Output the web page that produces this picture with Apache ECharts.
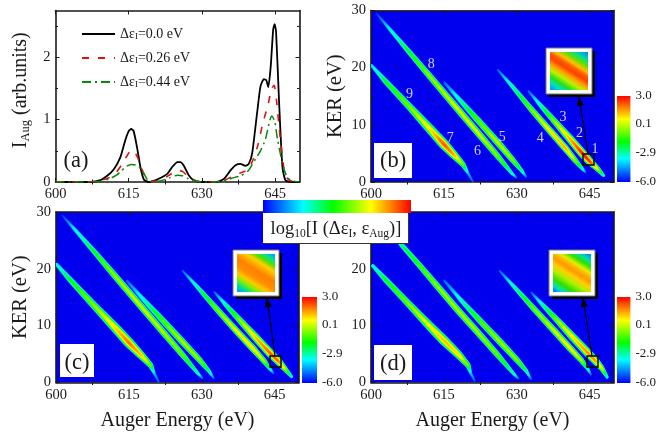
<!DOCTYPE html>
<html><head><meta charset="utf-8">
<style>html,body{margin:0;padding:0;background:#fff}#c{width:659px;height:433px}</style>
<script src="https://cdn.jsdelivr.net/npm/echarts@6/dist/echarts.min.js"></script>
</head><body><div id="c"></div>
<script>
// ---------- panel (a) spectra: [Auger energy, intensity]
const curve00 = [[600,0],[607.2,0],[609.2,.03],[610.6,.10],[612,.21],[613.3,.40],[614.3,.67],[615,.815],[615.5,.85],[616,.82],[616.7,.56],[617.4,.24],[618.1,.04],[619.1,0],[620.8,.04],[622.9,.13],[623.9,.24],[625,.32],[625.6,.32],[626.3,.26],[627.3,.11],[628.3,.03],[629.7,0],[633,0],[634.5,.05],[635.9,.19],[636.9,.27],[637.9,.29],[638.9,.26],[639.6,.29],[640.3,.46],[641.3,1.10],[642,1.53],[642.7,1.65],[643.2,1.63],[643.6,1.52],[644.1,1.85],[644.6,2.44],[644.9,2.53],[645.2,2.41],[645.8,1.31],[646.5,.24],[647.1,.03],[648.2,0],[650,0]];
const curve26 = [[600,0],[607,0],[609,.02],[611,.07],[612.5,.16],[613.5,.27],[614.5,.40],[615.5,.51],[616.3,.47],[617,.36],[618,.15],[619,.03],[620,.01],[622,.05],[623.5,.12],[625,.19],[626,.17],[627,.10],[628,.04],[630,0],[633,0],[635,.04],[636.5,.10],[638,.15],[639.5,.20],[640.5,.36],[641.5,.60],[642.5,.95],[643.5,1.22],[644.3,1.50],[644.8,1.55],[645.3,1.30],[646,.75],[646.8,.22],[647.5,.06],[648.5,.01],[650,0]];
const curve44 = [[600,0],[607,0],[609,.01],[611,.05],[612.5,.11],[613.5,.18],[614.5,.25],[615.5,.28],[616.5,.27],[617.5,.21],[618.5,.08],[619,.02],[620,0],[622,.03],[623.5,.07],[625,.11],[626,.10],[627,.06],[628,.03],[630,0],[633,0],[635,.03],[636.5,.07],[638,.10],[639.5,.18],[641,.37],[642,.50],[643,.68],[643.8,.95],[644.3,1.06],[644.9,.98],[645.5,.68],[646.5,.30],[647.5,.07],[649,.01],[650,0]];
const legendNames = ['Δε{s|I}=0.0 eV','Δε{s|I}=0.26 eV','Δε{s|I}=0.44 eV'];
// ---------- ridges: [Auger energy, KER, peak log10 I, half width]
const b9to7 = [[600,20.5,-3.8,1.5],[603,17.6,-1.6,2.6],[608,13.1,-.4,3.3],[612,9.4,.8,4.2],[615,6.6,2.4,4.6],[617,4.8,1.6,3.7],[619,3,-.6,2.4],[620,1.5,-4,1.4],[621,0,-5,1]];
const b8to6 = [[601,29.6,-5.5,1],[604,26.6,-3.2,1.8],[608,22.6,-1.5,2.5],[612,18.6,-.3,2.9],[617,13.6,.4,3.1],[622,8.6,.4,3.1],[626,4.6,-.4,2.7],[629,1.5,-2.6,1.6],[630,.7,-5,1]];
const b5 = [[615,17.5,-5,1.3],[618,14.6,-2.8,2.2],[622,10.8,-.8,2.9],[626,7,.2,3.1],[629,4,-.3,2.7],[631,2,-2.2,1.8],[632,.8,-5,1]];
const b4 = [[626,19.7,-5,1],[629,16.8,-2.6,2],[633,12.7,-.4,2.7],[637,8.8,1,3.1],[640,5.9,1.5,3.1],[642,3.8,0,2.5],[643.5,2.3,-2.6,1.6],[644.2,1.6,-5,1]];
const b3to1 = [[632.3,16,-5,1],[635,13.3,-2.4,2.2],[638,10.4,0,2.9],[641,7.5,1.5,3.6],[643.5,5,3,3.8],[645,3.6,2.7,3.4],[646.5,2.4,.7,2.5],[648,1,-3.2,1.4]];
const cA = [[600,20.9,-3.3,1.7],[603,18,-1.6,2.7],[608,13.4,-.3,3.4],[612,9.8,1,4.3],[615,7,2.1,4.6],[617.5,4.8,1.3,3.6],[619.5,3,-.6,2.5],[620.3,1.5,-4,1.4],[621.2,0,-5,1]];
const cB = [[601.2,29.5,-5.5,1],[604,26.8,-3.2,1.8],[608,22.9,-1.5,2.5],[612,18.9,-.2,3],[617,13.9,.3,3.1],[622,8.9,.1,3],[626,4.9,-.6,2.7],[629.2,1.6,-2.6,1.6],[630.2,.7,-5,1]];
const cC = [[614.5,18,-5,1.3],[618,14.6,-2.8,2.2],[622,10.9,-.9,2.9],[626,7.2,.1,3.1],[629.5,4,-.3,2.7],[631.5,2,-2.2,1.8],[632.5,.7,-5,1]];
const cD = [[626,19.7,-5,1],[629,16.9,-2.6,2],[633,13,-.5,2.7],[637,9.2,.7,3],[640.5,6,1.1,3.1],[642.8,3.8,0,2.5],[644,2.4,-2.6,1.6],[644.8,1.6,-5,1]];
const cE = [[632.5,16,-5,1],[635,13.6,-2.4,2.2],[638,10.8,-.2,2.9],[641,8,1.2,3.6],[644,5.2,2.3,3.8],[645.7,3.8,2.2,3.4],[647,2.5,.6,2.5],[648.6,.9,-3.2,1.4]];
const dA = [[600.2,20.7,-3.3,1.7],[603,18.1,-1.6,2.7],[608,13.6,-.3,3.2],[612,10,.6,4],[615,7.4,1.3,4.5],[618,4.9,1,3.6],[620,3,-.6,2.5],[620.6,1.5,-4,1.4],[621.4,.2,-5,1]];
const dB = [[601.6,29,-5.5,1],[606.3,24.2,-2.2,2.3],[610,20.6,-1,2.7],[614,16.6,-.2,3],[618,12.6,0,3.1],[622,8.8,-.1,3],[626,4.9,-.6,2.7],[629.4,1.5,-2.6,1.6],[630.4,.6,-5,1]];
const dC = [[615,18,-5,1.3],[618.5,14.5,-2.8,2.2],[622.5,10.8,-.9,2.9],[626.5,7.2,-.1,3.1],[630,4,-.4,2.7],[632,2,-2.2,1.8],[633,.5,-5,1]];
const dD = [[626.4,19.7,-5,1],[629.5,16.8,-2.6,2],[633.5,13,-.5,2.7],[637.5,9.3,.3,3],[641,6,.8,3],[643.3,3.9,0,2.5],[644.6,2.4,-2.6,1.6],[645.3,1.3,-5,1]];
const dE = [[632.9,15.9,-5,1],[635.5,13.5,-2.4,2.2],[638.5,10.8,-.2,2.9],[641.5,8,.9,3.6],[644.5,5.3,1.8,3.8],[646.2,3.8,1.7,3.4],[647.5,2.5,.5,2.5],[648.7,.8,-3.2,1.4]];
// ---------- peak labels of panel (b): [Auger energy, KER, label]
const peakLabels = [[646.1,5.8,'1'],[642.9,8.6,'2'],[639.5,11.4,'3'],[634.8,7.6,'4'],[627,7.9,'5'],[621.9,5.4,'6'],[616.3,7.6,'7'],[612.4,20.6,'8'],[607.9,15.3,'9']];
// ---------- ticks
const xMajor = [600,615,630,645];
const xMinor = [607.5,622.5,637.5];
const kerMajor = [0,10,20,30];
const kerMinor = [5,15,25];
const intMajor = [0,1,2];
const intMinor = [.5,1.5,2.5];
const barTicks = [-6,-2.9,.1,3];

const SERIF = '"Liberation Serif","Times New Roman",serif';
const INK = '#1a1a1a';
const ramp = [[0,[0,0,255]],[.27,[0,255,255]],[.47,[0,255,0]],[.73,[255,255,0]],[.85,[255,144,0]],[1,[255,0,0]]];
function colorAt(v){
  const f = Math.max(0,Math.min(1,(v+6)/9));
  for(let i=1;i<ramp.length;i++){
    if(f<=ramp[i][0]){
      const a=ramp[i-1],b=ramp[i],t=(f-a[0])/(b[0]-a[0]);
      return 'rgb('+a[1].map((c,k)=>Math.round(c+(b[1][k]-c)*t)).join(',')+')';
    }
  }
  return 'rgb(255,0,0)';
}
const rampStops = ramp.map(r=>({offset:r[0],color:'rgb('+r[1].join(',')+')'}));

const grids=[], xAxes=[], yAxes=[], series=[];
function frameAxis(kind,g,pos,min,max,major,minor,labelled,nameCfg,fmt){
  const common = {type:'value',gridIndex:g,position:pos,min:min,max:max,splitLine:{show:false},minorTick:{show:false},minorSplitLine:{show:false},silent:true};
  const list = kind==='x'?xAxes:yAxes;
  list.push(Object.assign({},common,{
    axisLine:{show:true,onZero:false,lineStyle:{color:INK,width:1.6}},
    axisTick:{show:true,inside:true,length:4,customValues:major,lineStyle:{color:INK,width:1}},
    axisLabel:labelled?{show:true,customValues:major,margin:5,color:INK,fontFamily:SERIF,fontSize:14.5,formatter:fmt||(v=>String(v)),showMinLabel:true,showMaxLabel:true}:{show:false}
  },nameCfg||{}));
  list.push(Object.assign({},common,{
    axisLine:{show:false},
    axisTick:{show:true,inside:true,length:2.5,customValues:minor,lineStyle:{color:INK,width:1}},
    axisLabel:{show:false}
  }));
}
const nameStyle = {fontFamily:SERIF,fontSize:20.5,color:INK};
function addPanel(rect,yMax,yMajor,yMinor,opts){
  const g = grids.length;
  grids.push(Object.assign({left:rect[0],top:rect[1],width:rect[2],height:rect[3],show:!!opts.bg,borderWidth:0},opts.bg?{backgroundColor:opts.bg}:{}));
  const xi = xAxes.length, yi = yAxes.length;
  frameAxis('x',g,'bottom',600,650,xMajor,xMinor,true,opts.xName);
  frameAxis('x',g,'top',600,650,xMajor,xMinor,false);
  frameAxis('y',g,'left',0,yMax,yMajor,yMinor,true,opts.yName);
  frameAxis('y',g,'right',0,yMax,yMajor,yMinor,false);
  return {xi,yi};
}
function ridgeSeries(ridge,ax){
  return {
    type:'custom',xAxisIndex:ax.xi,yAxisIndex:ax.yi,coordinateSystem:'cartesian2d',clip:true,silent:true,z:3,
    data:ridge.map(r=>[r[0],r[1]]),encode:{x:0,y:1},
    renderItem:function(params,api){
      if(params.dataIndex!==0) return null;
      const samples=[];
      for(let i=0;i<ridge.length-1;i++){
        const a=ridge[i],b=ridge[i+1],n=10;
        for(let k=0;k<(i===ridge.length-2?n+1:n);k++){
          const t=k/n;
          const pt=api.coord([a[0]+(b[0]-a[0])*t,a[1]+(b[1]-a[1])*t]);
          samples.push({x:pt[0],y:pt[1],p:a[2]+(b[2]-a[2])*t,w:a[3]+(b[3]-a[3])*t});
        }
      }
      const first=samples[0],last=samples[samples.length-1];
      const dx=last.x-first.x,dy=last.y-first.y,len=Math.hypot(dx,dy),nx=-dy/len,ny=dx/len;
      const children=[];
      const halfAt=(s,L)=>s.w*1.15*Math.pow(Math.max(0,(s.p-L))/(s.p+6),.5);
      for(let L=-5.7;L<=3;L+=.2){
        let run=[];
        const flush=()=>{
          if(run.length>1){
            const pts=[];
            run.forEach(s=>{const h=halfAt(s,L);pts.push([s.x+nx*h,s.y+ny*h]);});
            run.slice().reverse().forEach(s=>{const h=halfAt(s,L);pts.push([s.x-nx*h,s.y-ny*h]);});
            children.push({type:'polygon',shape:{points:pts},style:{fill:colorAt(L+.1)},silent:true});
          }
          run=[];
        };
        samples.forEach(s=>{ if(s.p>L) run.push(s); else flush(); });
        flush();
      }
      return {type:'group',children:children};
    }
  };
}
function colorBar(rect){
  const g=grids.length;
  grids.push({left:rect[0],top:rect[1],width:rect[2],height:rect[3],show:false});
  const xi=xAxes.length,yi=yAxes.length;
  xAxes.push({type:'value',gridIndex:g,min:0,max:1,show:false});
  yAxes.push({type:'value',gridIndex:g,position:'right',min:-6,max:3,splitLine:{show:false},silent:true,
    axisLine:{show:false},axisTick:{show:false},
    axisLabel:{show:true,customValues:barTicks,margin:5,color:INK,fontFamily:SERIF,fontSize:13,formatter:v=>v.toFixed(1)}});
  series.push({type:'custom',xAxisIndex:xi,yAxisIndex:yi,silent:true,clip:false,z:3,data:[[0,-6,1,3]],encode:{x:[0,2],y:[1,3]},
    renderItem:function(p,api){
      const a=api.coord([api.value(0),api.value(3)]),b=api.coord([api.value(2),api.value(1)]);
      return {type:'rect',shape:{x:a[0],y:a[1],width:b[0]-a[0],height:b[1]-a[1]},
        style:{fill:new echarts.graphic.LinearGradient(0,1,0,0,rampStops)}};
    }});
}
function inset(outer,inner,stops,sq,arrow){
  const els=[];
  els.push({type:'rect',z:50,shape:{x:outer[0]+3,y:outer[1]+3,width:outer[2],height:outer[3]},style:{fill:'#000'}});
  els.push({type:'rect',z:51,shape:{x:outer[0],y:outer[1],width:outer[2],height:outer[3]},style:{fill:'#fff',stroke:'#777',lineWidth:1}});
  els.push({type:'rect',z:52,shape:{x:inner[0],y:inner[1],width:inner[2],height:inner[3]},
    style:{fill:new echarts.graphic.LinearGradient(.15,1.05,.85,-.05,stops.map((c,i)=>({offset:c[0],color:c[1]})))}});
  els.push({type:'rect',z:50,shape:{x:sq[0],y:sq[1],width:sq[2],height:sq[2]},style:{fill:'none',stroke:'#000',lineWidth:1.4}});
  const [x1,y1,x2,y2]=arrow;
  els.push({type:'line',z:50,shape:{x1,y1,x2,y2},style:{stroke:'#000',lineWidth:1.2}});
  const ang=Math.atan2(y2-y1,x2-x1),L=9,W=3.6,bx=x2-L*Math.cos(ang),by=y2-L*Math.sin(ang);
  els.push({type:'polygon',z:50,shape:{points:[[x2,y2],[bx-W*Math.sin(ang),by+W*Math.cos(ang)],[bx+W*Math.sin(ang),by-W*Math.cos(ang)]]},style:{fill:'#000'}});
  return els;
}
function panelTag(txt,cx,cy,box){
  const els=[];
  if(box) els.push({type:'rect',z:40,shape:{x:box[0],y:box[1],width:box[2],height:box[3]},style:{fill:'#fff'}});
  els.push({type:'text',z:41,x:cx,y:cy,style:{text:txt,fontFamily:SERIF,fontSize:22.5,fill:INK,align:'center',verticalAlign:'middle'}});
  return els;
}

// panel a
const kerName = {name:'KER (eV)',nameLocation:'middle',nameGap:25,nameRotate:90,nameTextStyle:nameStyle};
const augName = {name:'Auger Energy (eV)',nameLocation:'middle',nameGap:28,nameTextStyle:{fontFamily:SERIF,fontSize:20,color:INK}};
const axA = addPanel([55.5,10.5,244,171.5],2.75,intMajor,intMinor,{
  yName:{name:'{m|I}{s|Aug}{m| (arb.units)}',nameLocation:'middle',nameGap:23,nameRotate:90,
    nameTextStyle:{fontFamily:SERIF,fontSize:20,color:INK,padding:[0,0,0,12],rich:{m:{fontFamily:SERIF,fontSize:20,color:INK,height:24},s:{fontFamily:SERIF,fontSize:12.5,color:INK,verticalAlign:'bottom',height:14}}}}});
series.push({name:legendNames[0],type:'line',xAxisIndex:axA.xi,yAxisIndex:axA.yi,data:curve00,symbol:'none',smooth:.2,z:5,lineStyle:{color:'#000',width:1.8}});
series.push({name:legendNames[1],type:'line',xAxisIndex:axA.xi,yAxisIndex:axA.yi,data:curve26,symbol:'none',smooth:.2,z:6,lineStyle:{color:'#e01010',width:1.6,type:[7,9]}});
series.push({name:legendNames[2],type:'line',xAxisIndex:axA.xi,yAxisIndex:axA.yi,data:curve44,symbol:'none',smooth:.2,z:7,lineStyle:{color:'#0a8a0a',width:1.5,type:[9,4,2,4]}});

// heat panels
const BG='#0000ee';
const axB = addPanel([371,10.5,243,171.5],30,kerMajor,kerMinor,{bg:BG,yName:kerName});
const axC = addPanel([56,212,243,170.5],30,kerMajor,kerMinor,{bg:BG,yName:kerName,xName:augName});
const axD = addPanel([371,212,243,170.5],30,kerMajor,kerMinor,{bg:BG,xName:augName});
[b9to7,b8to6,b5,b4,b3to1].forEach(r=>series.push(ridgeSeries(r,axB)));
[cA,cB,cC,cD,cE].forEach(r=>series.push(ridgeSeries(r,axC)));
[dA,dB,dC,dD,dE].forEach(r=>series.push(ridgeSeries(r,axD)));
series.push({type:'scatter',xAxisIndex:axB.xi,yAxisIndex:axB.yi,symbolSize:0,z:9,silent:true,data:peakLabels,
  label:{show:true,position:'inside',formatter:p=>p.value[2],color:'#fff',fontFamily:SERIF,fontSize:14}});
colorBar([617,96,15,86]);
colorBar([302,297,15,86]);
colorBar([617,297,15,86]);

const stopsB=[[0,'#00a0ff'],[.1,'#00e0c0'],[.2,'#20e020'],[.32,'#c0f000'],[.42,'#ffa000'],[.52,'#ff4000'],[.6,'#ff5a00'],[.68,'#ffc000'],[.78,'#60e000'],[.88,'#00e090'],[1,'#0090ff']];
const stopsC=[[0,'#00a0ff'],[.1,'#00e090'],[.2,'#80f000'],[.3,'#ffc800'],[.4,'#ff9000'],[.55,'#ff8000'],[.62,'#ffa000'],[.72,'#ffd000'],[.82,'#50e000'],[.92,'#00e0a0'],[1,'#00a0ff']];
const stopsD=[[0,'#0080ff'],[.08,'#00e0c0'],[.2,'#30e000'],[.34,'#b0f000'],[.45,'#ffd000'],[.55,'#ff9800'],[.62,'#ffb000'],[.7,'#e0f000'],[.8,'#30e000'],[.9,'#00e0a0'],[1,'#0090ff']];

const graphics=[].concat(
  panelTag('(a)',76,161),
  panelTag('(b)',393,161,[374,143,38,35]),
  panelTag('(c)',77,363,[60,344,34,33]),
  panelTag('(d)',393,364,[374,345,38,35]),
  inset([546,48,46,46],[550,52,38,38],stopsB,[583,154,11],[588,154,579,97]),
  inset([233,250,46,46],[237,254,38,38],stopsC,[270,356,11],[275,356,267,298]),
  inset([549,250,46,46],[553,254,38,38],stopsD,[587,356,11],[592,356,583,298]),
  [
    {type:'rect',z:60,shape:{x:264,y:214,width:145,height:30},style:{fill:'#333'}},
    {type:'rect',z:61,shape:{x:263,y:212.5,width:145,height:30.5},style:{fill:'#fff'}},
    {type:'rect',z:62,shape:{x:263,y:200,width:148,height:13},style:{fill:new echarts.graphic.LinearGradient(0,0,1,0,rampStops)}},
    {type:'text',z:63,x:336,y:229,style:{
      rich:{m:{fontFamily:SERIF,fontSize:18.5,fill:INK,height:22},s:{fontFamily:SERIF,fontSize:11.5,fill:INK,verticalAlign:'bottom',height:13}},
      text:'{m|log}{s|10}{m|[I (Δε}{s|I}{m|, ε}{s|Aug}{m|)]}',align:'center',verticalAlign:'middle',fontFamily:SERIF,fontSize:18.5,fill:INK}}
  ]
);

const chart=echarts.init(document.getElementById('c'),null,{renderer:'canvas'});
chart.setOption({
  animation:false,backgroundColor:'#fff',
  grid:grids,xAxis:xAxes,yAxis:yAxes,series:series,graphic:{elements:graphics},
  legend:{show:true,orient:'vertical',left:81,top:27,itemGap:10,itemWidth:33,itemHeight:14,padding:0,
    data:legendNames,selectedMode:false,itemStyle:{opacity:0,borderWidth:0},
    textStyle:{fontFamily:SERIF,fontSize:14,color:INK,rich:{s:{fontFamily:SERIF,fontSize:9,color:INK,verticalAlign:'bottom',height:9}}}}
});
</script></body></html>
